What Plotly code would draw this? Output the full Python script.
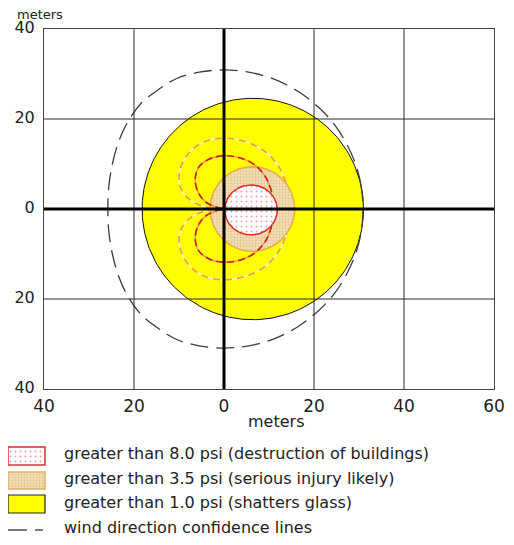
import numpy as np
import plotly.graph_objects as go

# ---------------- data (meters) ----------------
X_TICKS = [-40, -20, 0, 20, 40, 60]
X_TICK_TEXT = ["40", "20", "0", "20", "40", "60"]
Y_TICKS = [-40, -20, 0, 20, 40]
Y_TICK_TEXT = ["40", "20", "0", "20", "40"]

ZONE_LABELS = [
    "greater than 8.0 psi (destruction of buildings)",
    "greater than 3.5 psi (serious injury likely)",
    "greater than 1.0 psi (shatters glass)",
]
ZONE_CENTER_X = [6.0, 6.3, 6.4]
ZONE_CENTER_Y = [-0.2, 0.0, 0.0]
ZONE_RADIUS_X = [5.85, 9.4, 24.6]
ZONE_RADIUS_Y = [5.55, 9.4, 24.6]
CONF_LABEL = "wind direction confidence lines"

# wind direction confidence line for 1.0 psi zone
OUTER_CONF_X = [30.9, 30.5, 29.4, 27.5, 24.6, 21.0, 16.5, 11.0, 5.5, 0.0, -5.5, -10.5, -14.5, -18.3,
                -21.3, -23.4, -24.8, -25.6, -25.8, -25.6, -24.8, -23.4, -21.3, -18.3, -14.5, -10.5,
                -5.5, 0.0, 5.5, 11.0, 16.5, 21.0, 24.6, 27.5, 29.4, 30.5, 30.9]
OUTER_CONF_Y = [0.0, 5.0, 9.5, 14.0, 18.7, 22.6, 26.1, 28.9, 30.4, 30.9, 30.4, 29.0, 26.6, 23.6,
                19.5, 15.0, 10.0, 5.0, 0.0, -5.0, -10.0, -15.0, -19.5, -23.6, -26.6, -29.0,
                -30.4, -30.9, -30.4, -28.9, -26.1, -22.6, -18.7, -14.0, -9.5, -5.0, 0.0]

# confidence line for 3.5 psi zone
MID_CONF_X = [13.8, 12.3, 9.6, 6.0, 2.5, -1.0, -4.5, -7.3, -9.2, -10.0, -9.6, -8.0, -5.8, -3.1,
              -5.8, -8.0, -9.6, -10.0, -9.2, -7.3, -4.5, -1.0, 2.5, 6.0, 9.6, 12.3, 13.8]
MID_CONF_Y = [5.8, 9.2, 12.4, 14.5, 15.5, 15.7, 14.9, 13.0, 10.3, 7.4, 4.6, 2.4, 1.0, 0.0,
              -1.0, -2.4, -4.6, -7.4, -10.3, -13.0, -14.9, -15.7, -15.5, -14.5, -12.4, -9.2, -5.8]

# confidence line for 8.0 psi zone
INNER_CONF_X = [10.6, 9.2, 6.5, 3.0, -0.5, -3.5, -5.6, -6.4, -5.6, -4.0, -2.0, 0.0,
                -2.0, -4.0, -5.6, -6.4, -5.6, -3.5, -0.5, 3.0, 6.5, 9.2, 10.6]
INNER_CONF_Y = [3.8, 7.2, 10.0, 11.5, 11.8, 11.0, 9.3, 6.5, 3.4, 1.5, 0.5, 0.0,
                -0.5, -1.5, -3.4, -6.5, -9.3, -11.0, -11.8, -11.5, -10.0, -7.2, -3.8]

# ---------------- figure geometry ----------------
OFF = 8                      # page body margin
PAGE_W, PAGE_H = 514, 545
W, H = PAGE_W - OFF, PAGE_H - OFF
PL, PR, PT, PB = 44, 494, 29, 389  # plot box in page pixels
FONT = "Verdana, DejaVu Sans, sans-serif"
TXT = "#222222"


def px_x(p):
    return (p - OFF) / W


def px_y(p):
    return 1 - (p - OFF) / H


fig = go.Figure()
theta = np.linspace(0, 2 * np.pi, 241)

RED_PATTERN = dict(shape=".", bgcolor="#ffffff", fgcolor="#d8405a", size=5, solidity=0.12)
BEIGE_PATTERN = dict(shape=".", bgcolor="#f4e2bb", fgcolor="#d3ad6c", size=3, solidity=0.45)

zone_styles = [
    dict(line=dict(color="#e02828", width=1.5), fillpattern=RED_PATTERN),
    dict(line=dict(color="#eea448", width=1.5), fillpattern=BEIGE_PATTERN),
    dict(line=dict(color="#111111", width=1), fillcolor="#ffff00"),
]

for i in [2, 1, 0]:
    xs = ZONE_CENTER_X[i] + ZONE_RADIUS_X[i] * np.cos(theta)
    ys = ZONE_CENTER_Y[i] + ZONE_RADIUS_Y[i] * np.sin(theta)
    fig.add_trace(go.Scatter(x=xs, y=ys, mode="lines", fill="toself", hoverinfo="skip",
                             **zone_styles[i]))

# confidence lines
fig.add_trace(go.Scatter(x=MID_CONF_X, y=MID_CONF_Y, mode="lines", line_shape="spline",
                         line=dict(color="#fff6c8", width=1.6), hoverinfo="skip"))
fig.add_trace(go.Scatter(x=MID_CONF_X, y=MID_CONF_Y, mode="lines", line_shape="spline",
                         line=dict(color="#e8a030", width=1.6, dash="7px,5px"), hoverinfo="skip"))
fig.add_trace(go.Scatter(x=INNER_CONF_X, y=INNER_CONF_Y, mode="lines", line_shape="spline",
                         line=dict(color="#eea040", width=1.6), hoverinfo="skip"))
fig.add_trace(go.Scatter(x=INNER_CONF_X, y=INNER_CONF_Y, mode="lines", line_shape="spline",
                         line=dict(color="#cc2020", width=1.6, dash="7px,4px"), hoverinfo="skip"))
fig.add_trace(go.Scatter(x=OUTER_CONF_X, y=OUTER_CONF_Y, mode="lines", line_shape="spline",
                         line=dict(color="#3c3c3c", width=1.3, dash="18px,8px"), hoverinfo="skip"))

# grid lines & zero lines above the fills
shapes = []
for xv in X_TICKS[1:-1]:
    shapes.append(dict(type="line", xref="x", yref="y", x0=xv, x1=xv, y0=Y_TICKS[0], y1=Y_TICKS[-1],
                       line=dict(color="#000000" if xv == 0 else "#2a2a2a", width=3 if xv == 0 else 1),
                       layer="above"))
for yv in Y_TICKS[1:-1]:
    shapes.append(dict(type="line", xref="x", yref="y", y0=yv, y1=yv, x0=X_TICKS[0], x1=X_TICKS[-1],
                       line=dict(color="#000000" if yv == 0 else "#2a2a2a", width=3 if yv == 0 else 1),
                       layer="above"))

# ---------------- legend (pixel axes, page coordinates) ----------------
sw_x0, sw_x1 = 8, 45
rows = [(447, 465), (472, 489), (495, 513)]
sw_styles = [
    dict(line=dict(color="#d83030", width=1.5), fillpattern=RED_PATTERN),
    dict(line=dict(color="#e9b060", width=1.5), fillpattern=BEIGE_PATTERN),
    dict(line=dict(color="#222222", width=1.2), fillcolor="#ffff00"),
]
for (y0, y1), st in zip(rows, sw_styles):
    fig.add_trace(go.Scatter(x=[sw_x0, sw_x1, sw_x1, sw_x0, sw_x0], y=[y0, y0, y1, y1, y0],
                             mode="lines", fill="toself", xaxis="x2", yaxis="y2",
                             hoverinfo="skip", **st))
fig.add_trace(go.Scatter(x=[8, 27, None, 35, 43], y=[530, 530, None, 530, 530], mode="lines",
                         line=dict(color="#333333", width=1.3), xaxis="x2", yaxis="y2",
                         hoverinfo="skip"))

annotations = []
text_y = [453, 478, 502, 527]
for lbl, ty in zip(ZONE_LABELS + [CONF_LABEL], text_y):
    annotations.append(dict(text=lbl, x=62, y=ty, xref="x2", yref="y2", xanchor="left",
                            yanchor="middle", showarrow=False,
                            font=dict(family=FONT, size=16, color=TXT)))
annotations.append(dict(text="meters", x=px_x(16), y=px_y(6), xref="paper", yref="paper",
                        xanchor="left", yanchor="top", showarrow=False, borderpad=0,
                        font=dict(family=FONT, size=13, color=TXT)))
annotations.append(dict(text="meters", x=px_x(276), y=px_y(421), xref="paper", yref="paper",
                        xanchor="center", yanchor="middle", showarrow=False,
                        font=dict(family=FONT, size=16, color=TXT)))

fig.update_layout(
    width=W, height=H,
    margin=dict(l=0, r=0, t=0, b=0, pad=0, autoexpand=False),
    paper_bgcolor="white", plot_bgcolor="white",
    showlegend=False,
    shapes=shapes,
    annotations=annotations,
    xaxis=dict(range=[X_TICKS[0], X_TICKS[-1]], domain=[px_x(PL), px_x(PR)], anchor="y",
               tickvals=X_TICKS, ticktext=X_TICK_TEXT, showgrid=False, zeroline=False,
               showline=True, mirror=True, linecolor="#444444", linewidth=1, ticks="",
               ticklabelstandoff=2, automargin=False,
               tickfont=dict(family=FONT, size=17, color=TXT), fixedrange=True),
    yaxis=dict(range=[Y_TICKS[0], Y_TICKS[-1]], domain=[px_y(PB), px_y(PT)], anchor="x",
               tickvals=Y_TICKS, ticktext=Y_TICK_TEXT, showgrid=False, zeroline=False,
               showline=True, mirror=True, linecolor="#444444", linewidth=1, ticks="",
               ticklabelstandoff=5, ticklabelshift=-2, automargin=False,
               tickfont=dict(family=FONT, size=16, color=TXT), fixedrange=True),
    xaxis2=dict(domain=[0, 1], range=[OFF, PAGE_W], anchor="y2", visible=False, fixedrange=True,
                automargin=False),
    yaxis2=dict(domain=[0, px_y(PB)], range=[PAGE_H, PB], anchor="x2", visible=False,
                fixedrange=True, automargin=False),
)

fig.write_html("out.html")
